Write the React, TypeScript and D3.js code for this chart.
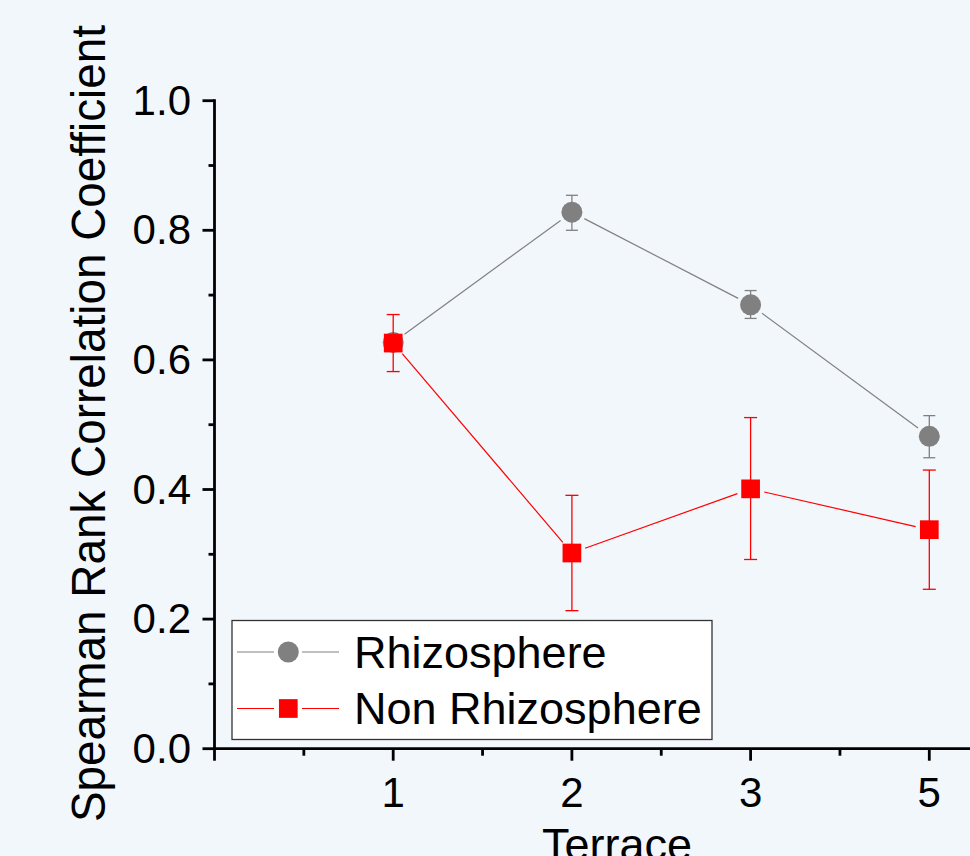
import * as d3 from 'd3';

// Terrace categories (shown on the x axis)
const TERRACES = ['1', '2', '3', '5'];

// Rhizosphere series
const RHIZO_MEAN = [0.627, 0.828, 0.685, 0.482];
const RHIZO_LOW = [0.617, 0.8, 0.664, 0.449];
const RHIZO_HIGH = [0.637, 0.854, 0.707, 0.514];

// Non rhizosphere series
const NON_MEAN = [0.626, 0.302, 0.401, 0.338];
const NON_LOW = [0.582, 0.213, 0.292, 0.246];
const NON_HIGH = [0.67, 0.391, 0.511, 0.43];

const Y_TICKS = [0, 0.2, 0.4, 0.6, 0.8, 1.0];
const Y_MINOR = [0.1, 0.3, 0.5, 0.7, 0.9];
const X_MINOR = [0.5, 1.5, 2.5, 3.5];

const W = 970;
const H = 856;
const FONT = 'Arial, "Liberation Sans", sans-serif';
const GRAY = '#808080';
const RED = '#ff0000';

const x = d3.scaleLinear().domain([0, 4]).range([214.5, 929.3]);
const y = d3.scaleLinear().domain([0, 1]).range([748.7, 100.7]);

// line segments between markers, trimmed so markers sit in a gap
function gappedSegments(vals: number[], gap: number) {
  const out: [number, number, number, number][] = [];
  for (let i = 0; i < vals.length - 1; i++) {
    const x1 = x(i + 1), y1 = y(vals[i]);
    const x2 = x(i + 2), y2 = y(vals[i + 1]);
    const len = Math.hypot(x2 - x1, y2 - y1);
    const ux = (x2 - x1) / len, uy = (y2 - y1) / len;
    out.push([x1 + ux * gap, y1 + uy * gap, x2 - ux * gap, y2 - uy * gap]);
  }
  return out;
}

function ErrorBars({ lo, hi, color, cap }: { lo: number[]; hi: number[]; color: string; cap: number }) {
  return (
    <g stroke={color} strokeWidth={1.3}>
      {lo.map((l, i) => {
        const cx = x(i + 1);
        return (
          <g key={i}>
            <line x1={cx} x2={cx} y1={y(l)} y2={y(hi[i])} />
            <line x1={cx - cap / 2} x2={cx + cap / 2} y1={y(l)} y2={y(l)} />
            <line x1={cx - cap / 2} x2={cx + cap / 2} y1={y(hi[i])} y2={y(hi[i])} />
          </g>
        );
      })}
    </g>
  );
}

export default function App() {
  const rhizoSegs = gappedSegments(RHIZO_MEAN, 14);
  const nonSegs = gappedSegments(NON_MEAN, 14);
  const sq = 18.7;

  return (
    <svg
      width={W}
      height={H}
      style={{ position: 'absolute', left: 0, top: 0, display: 'block' }}
      fontFamily={FONT}
    >
      <rect width={W} height={H} fill="#f2f7fc" />

      {/* y axis */}
      <g stroke="#000" strokeWidth={2.8}>
        <line x1={x(0)} x2={x(0)} y1={y(1) - 1.4} y2={y(0)} />
        {Y_TICKS.map((t) => (
          <line key={t} x1={x(0) - 12} x2={x(0)} y1={y(t)} y2={y(t)} />
        ))}
        {Y_MINOR.map((t) => (
          <line key={t} x1={x(0) - 6} x2={x(0)} y1={y(t)} y2={y(t)} />
        ))}
      </g>
      {Y_TICKS.map((t) => (
        <text key={t} x={191} y={y(t) + 14} textAnchor="end" fontSize={42} fill="#000">
          {d3.format('.1f')(t)}
        </text>
      ))}

      {/* x axis */}
      <g stroke="#000" strokeWidth={2.8}>
        <line x1={x(0) - 1.4} x2={W} y1={y(0)} y2={y(0)} />
        {[0, 1, 2, 3, 4].map((t) => (
          <line key={t} x1={x(t)} x2={x(t)} y1={y(0)} y2={y(0) + 12} />
        ))}
        {X_MINOR.map((t) => (
          <line key={t} x1={x(t)} x2={x(t)} y1={y(0)} y2={y(0) + 7} />
        ))}
      </g>
      {TERRACES.map((c, i) => (
        <text key={c} x={x(i + 1)} y={807} textAnchor="middle" fontSize={42} fill="#000">
          {c}
        </text>
      ))}
      <text x={617} y={860} textAnchor="middle" fontSize={45} fill="#000">
        Terrace
      </text>
      <text
        transform="translate(105,423.5) rotate(-90)"
        textAnchor="middle"
        fontSize={48}
        textLength={797}
        lengthAdjust="spacingAndGlyphs"
        fill="#000"
      >
        Spearman Rank Correlation Coefficient
      </text>

      {/* Rhizosphere */}
      <g stroke={GRAY} strokeWidth={1.2}>
        {rhizoSegs.map((s, i) => (
          <line key={i} x1={s[0]} y1={s[1]} x2={s[2]} y2={s[3]} />
        ))}
      </g>
      <ErrorBars lo={RHIZO_LOW} hi={RHIZO_HIGH} color={GRAY} cap={12} />
      {RHIZO_MEAN.map((v, i) => (
        <circle key={i} cx={x(i + 1)} cy={y(v)} r={10.5} fill={GRAY} />
      ))}

      {/* Non Rhizosphere */}
      <g stroke={RED} strokeWidth={1.2}>
        {nonSegs.map((s, i) => (
          <line key={i} x1={s[0]} y1={s[1]} x2={s[2]} y2={s[3]} />
        ))}
      </g>
      <ErrorBars lo={NON_LOW} hi={NON_HIGH} color={RED} cap={13} />
      {NON_MEAN.map((v, i) => (
        <rect key={i} x={x(i + 1) - sq / 2} y={y(v) - sq / 2} width={sq} height={sq} fill={RED} />
      ))}

      {/* legend */}
      <rect x={232} y={620.5} width={480} height={119} fill="#fff" stroke="#333" strokeWidth={1.3} />
      <g>
        <line x1={237} x2={274} y1={652} y2={652} stroke={GRAY} strokeWidth={1.2} />
        <line x1={302} x2={339} y1={652} y2={652} stroke={GRAY} strokeWidth={1.2} />
        <circle cx={288.3} cy={652} r={10.5} fill={GRAY} />
        <text x={354} y={668} fontSize={45} fill="#000">Rhizosphere</text>

        <line x1={237} x2={274} y1={708.5} y2={708.5} stroke={RED} strokeWidth={1.2} />
        <line x1={302} x2={339} y1={708.5} y2={708.5} stroke={RED} strokeWidth={1.2} />
        <rect x={288.3 - sq / 2} y={708.5 - sq / 2} width={sq} height={sq} fill={RED} />
        <text x={354} y={724} fontSize={45} fill="#000">Non Rhizosphere</text>
      </g>
    </svg>
  );
}
